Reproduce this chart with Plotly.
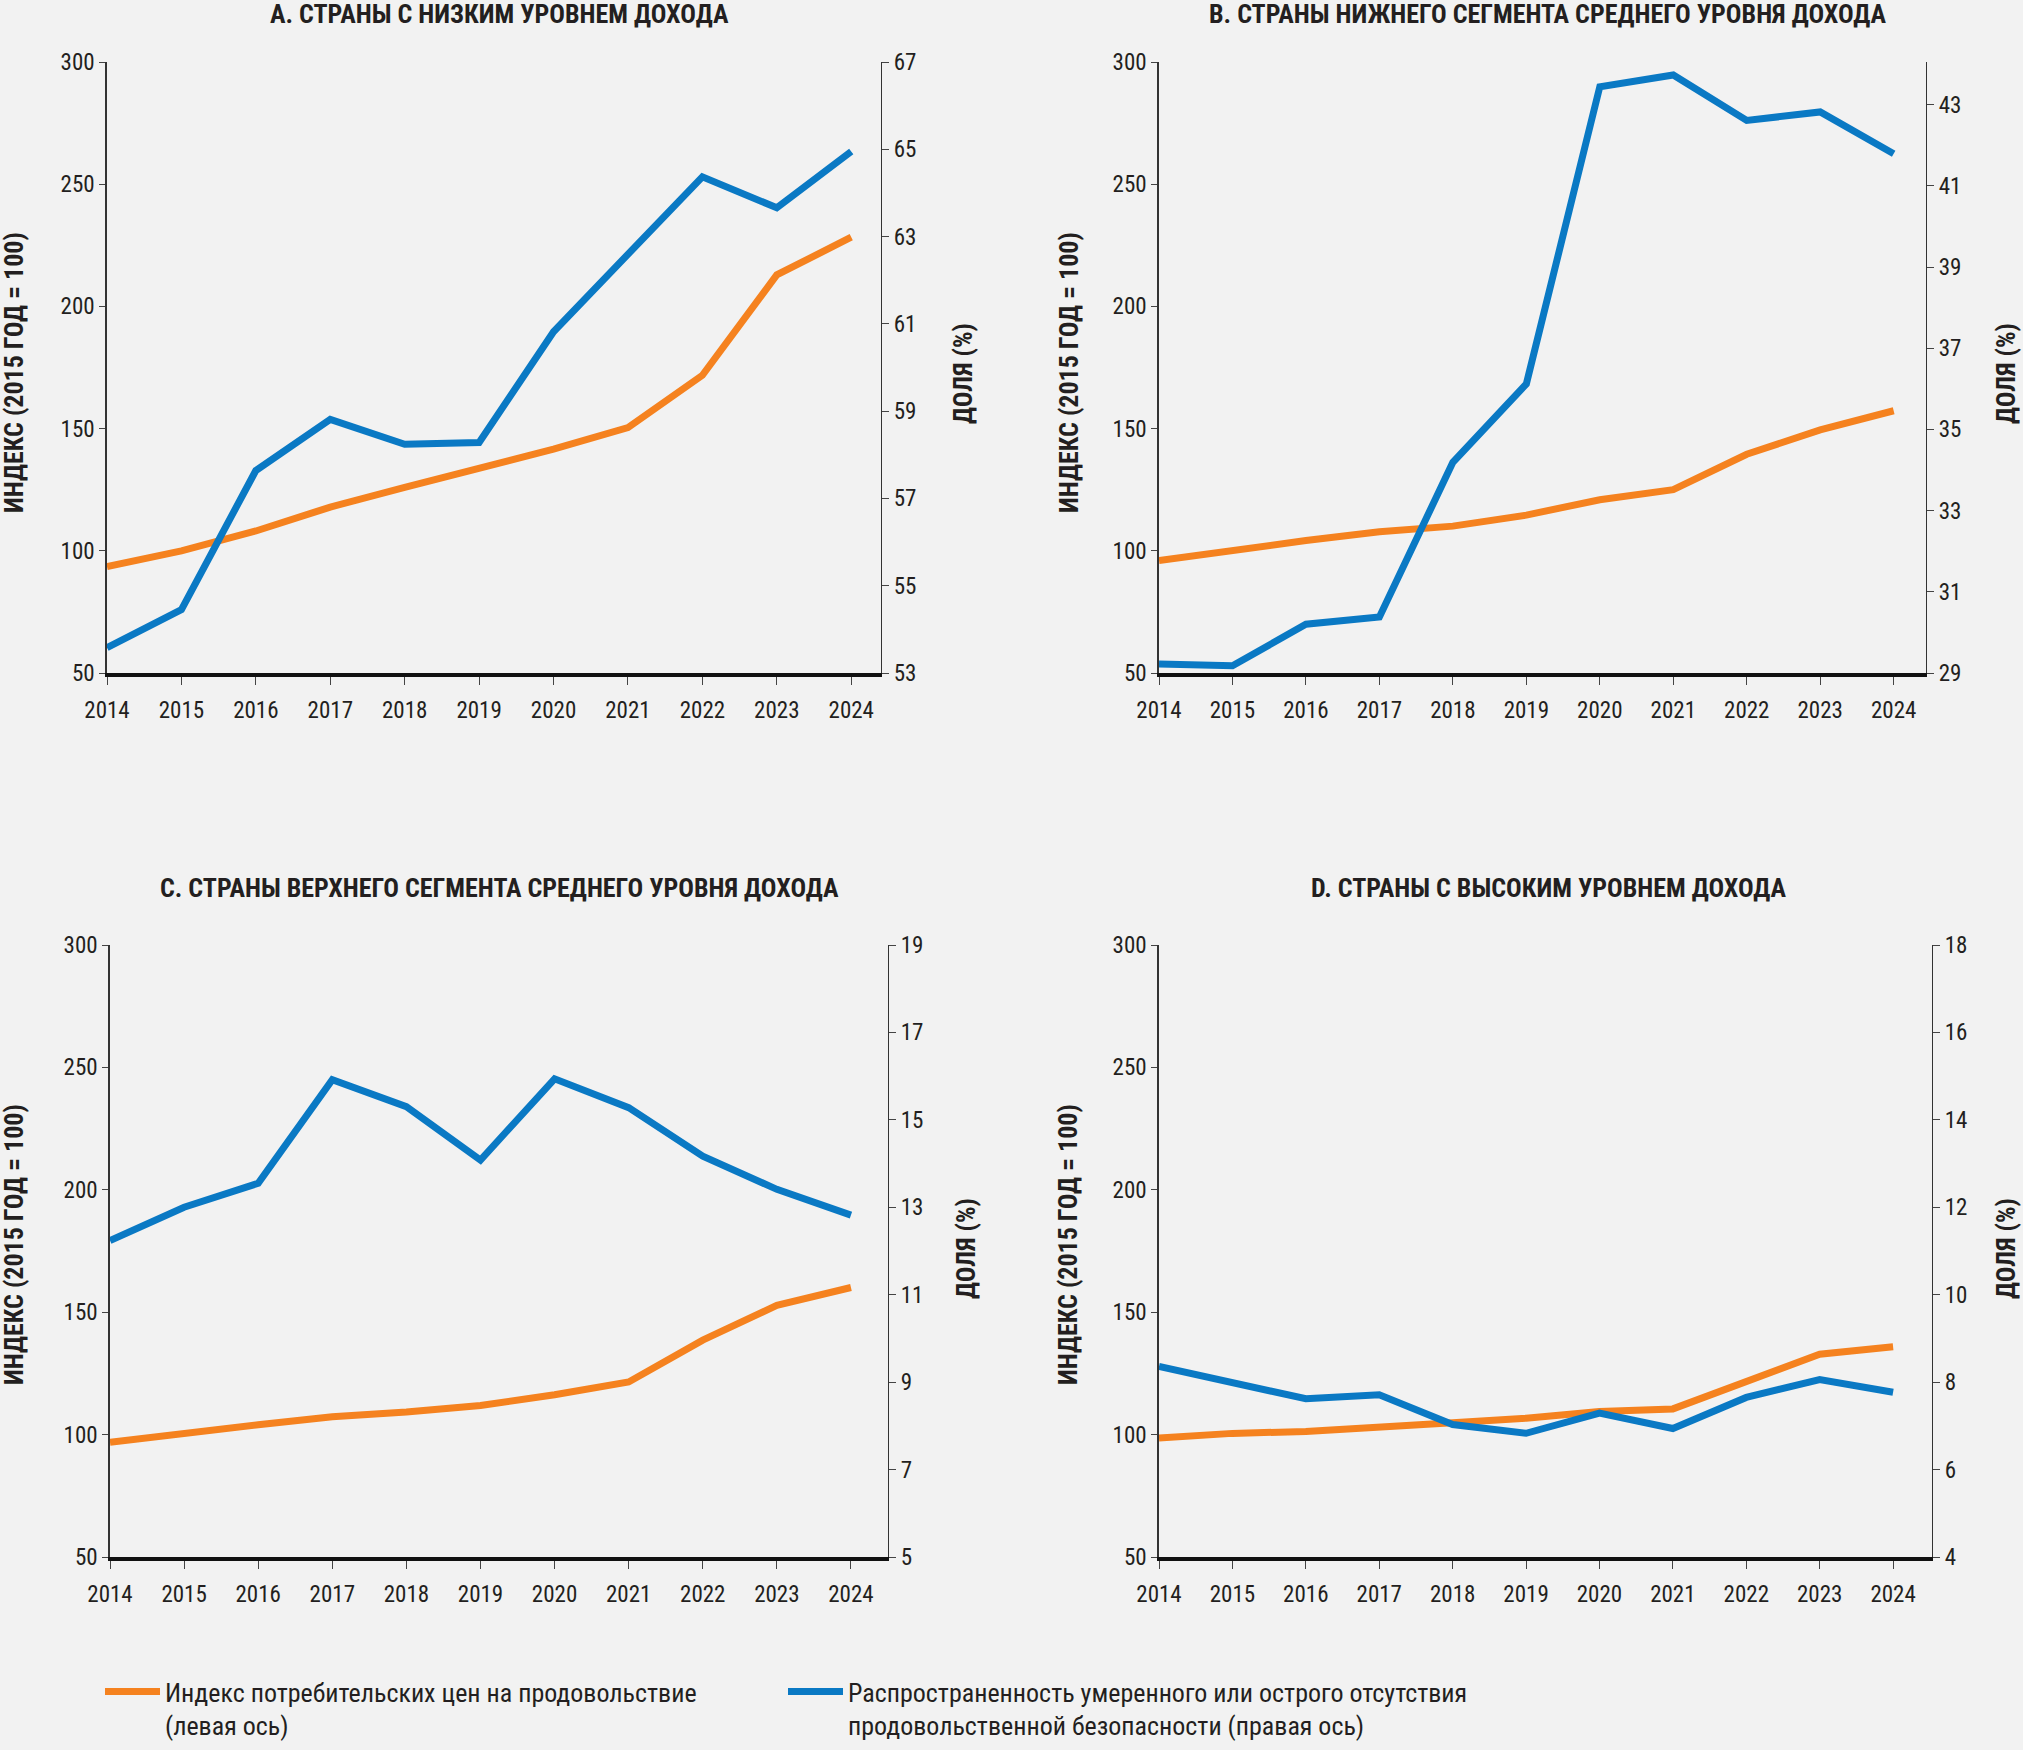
import plotly.graph_objects as go

# ---------------- data ----------------
years = [2014, 2015, 2016, 2017, 2018, 2019, 2020, 2021, 2022, 2023, 2024]

panel_titles = [
    "A. СТРАНЫ С НИЗКИМ УРОВНЕМ ДОХОДА",
    "B. СТРАНЫ НИЖНЕГО СЕГМЕНТА СРЕДНЕГО УРОВНЯ ДОХОДА",
    "C. СТРАНЫ ВЕРХНЕГО СЕГМЕНТА СРЕДНЕГО УРОВНЯ ДОХОДА",
    "D. СТРАНЫ С ВЫСОКИМ УРОВНЕМ ДОХОДА",
]

# food consumer price index (left axis, 2015 = 100)
fpi_a = [93.5, 100.0, 108.1, 117.9, 126.0, 133.8, 141.6, 150.4, 171.8, 212.9, 228.3]
fpi_b = [96.0, 100.3, 104.2, 107.8, 110.1, 114.6, 120.9, 125.0, 139.5, 149.5, 157.3]
fpi_c = [96.9, 100.7, 104.0, 107.3, 109.2, 111.9, 116.3, 121.5, 138.6, 152.8, 160.1]
fpi_d = [98.6, 100.5, 101.3, 102.8, 104.8, 106.7, 109.4, 110.5, 121.5, 132.8, 135.9]

# prevalence of moderate or severe food insecurity (right axis, %)
fi_a = [53.58, 54.45, 57.64, 58.81, 58.24, 58.28, 60.82, 62.60, 64.37, 63.66, 64.95]
fi_b = [29.22, 29.18, 30.20, 30.38, 34.19, 36.12, 43.44, 43.73, 42.61, 42.82, 41.79]
fi_c = [12.24, 13.00, 13.55, 15.92, 15.30, 14.08, 15.94, 15.28, 14.17, 13.41, 12.82]
fi_d = [8.36, 7.97, 7.62, 7.71, 7.03, 6.83, 7.29, 6.94, 7.65, 8.06, 7.77]

left_ticks = [50, 100, 150, 200, 250, 300]
right_ticks_a = [53, 55, 57, 59, 61, 63, 65, 67]
right_ticks_b = [29, 31, 33, 35, 37, 39, 41, 43]
right_ticks_c = [5, 7, 9, 11, 13, 15, 17, 19]
right_ticks_d = [4, 6, 8, 10, 12, 14, 16, 18]

left_axis_title = "ИНДЕКС (2015 ГОД = 100)"
right_axis_title = "ДОЛЯ (%)"
series_names = [
    "Индекс потребительских цен на продовольствие<br>(левая ось)",
    "Распространенность умеренного или острого отсутствия<br>продовольственной безопасности (правая ось)",
]

# ---------------- style / layout ----------------
W, H = 2023, 1750
ORANGE = "#F5821F"
BLUE = "#0A79C4"
BG = "#F2F2F2"
TXT = "#231F20"
FONT = "Roboto Condensed, Roboto, sans-serif"


def fx(p):
    return p / W


def fy(p):
    return 1 - p / H


panels = [
    dict(title=panel_titles[0], fpi=fpi_a, fi=fi_a, rticks=right_ticks_a, rrange=[53, 67],
         xpx=(107, 881), ypx=(62, 673), xmax=2024.40,
         tpos=(499, 14), ltpos=(14, 373), rtpos=(963, 374)),
    dict(title=panel_titles[1], fpi=fpi_b, fi=fi_b, rticks=right_ticks_b, rrange=[29, 44.05],
         xpx=(1159, 1926), ypx=(62, 673), xmax=2024.44,
         tpos=(1548, 14), ltpos=(1069, 373), rtpos=(2006, 374)),
    dict(title=panel_titles[2], fpi=fpi_c, fi=fi_c, rticks=right_ticks_c, rrange=[5, 19],
         xpx=(110, 888), ypx=(945, 1557), xmax=2024.50,
         tpos=(499, 888), ltpos=(14, 1245), rtpos=(966, 1249)),
    dict(title=panel_titles[3], fpi=fpi_d, fi=fi_d, rticks=right_ticks_d, rrange=[4, 18],
         xpx=(1159, 1932), ypx=(945, 1557), xmax=2024.53,
         tpos=(1549, 888), ltpos=(1068, 1245), rtpos=(2006, 1249)),
]

fig = go.Figure()
layout = {}
annotations = []
TICKFONT = dict(family=FONT, size=23, color=TXT)

for i, p in enumerate(panels):
    xn = "x" if i == 0 else f"x{i + 1}"
    yl = f"y{2 * i + 1}" if i > 0 else "y"
    yr = f"y{2 * i + 2}"
    xkey = "xaxis" if i == 0 else f"xaxis{i + 1}"
    ylkey = "yaxis" if i == 0 else f"yaxis{2 * i + 1}"
    yrkey = f"yaxis{2 * i + 2}"

    fig.add_trace(go.Scatter(
        x=years, y=p["fpi"], mode="lines", xaxis=xn, yaxis=yl,
        line=dict(color=ORANGE, width=7),
        name=series_names[0], legend="legend", showlegend=(i == 0),
        hoverinfo="skip",
    ))
    fig.add_trace(go.Scatter(
        x=years, y=p["fi"], mode="lines", xaxis=xn, yaxis=yr,
        line=dict(color=BLUE, width=7),
        name=series_names[1], legend="legend2", showlegend=(i == 0),
        hoverinfo="skip",
    ))

    layout[xkey] = dict(
        domain=[fx(p["xpx"][0]), fx(p["xpx"][1])],
        anchor=yl, range=[2014, p["xmax"]], automargin=False,
        tickmode="array", tickvals=years, ticktext=[str(y) for y in years],
        ticks="outside", ticklen=8, tickwidth=1.2, tickcolor="#444",
        ticklabelstandoff=5,
        showline=True, linecolor="#111", linewidth=4,
        showgrid=False, zeroline=False, tickfont=TICKFONT,
    )
    layout[ylkey] = dict(
        domain=[fy(p["ypx"][1]), fy(p["ypx"][0])],
        anchor=xn, range=[50, 300], automargin=False,
        tickmode="array", tickvals=left_ticks,
        ticks="outside", ticklen=6, tickwidth=1.2, tickcolor="#444",
        showline=True, linecolor="#333", linewidth=1.5,
        showgrid=False, zeroline=False, tickfont=TICKFONT,
    )
    layout[yrkey] = dict(
        overlaying=yl, side="right", anchor=xn,
        range=p["rrange"], automargin=False,
        tickmode="array", tickvals=p["rticks"],
        ticks="outside", ticklen=7, tickwidth=1.2, tickcolor="#444",
        showline=True, linecolor="#333", linewidth=1.2,
        showgrid=False, zeroline=False, tickfont=TICKFONT,
    )

    annotations.append(dict(
        text=f"<b>{p['title']}</b>", xref="paper", yref="paper",
        x=fx(p["tpos"][0]), y=fy(p["tpos"][1]), xanchor="center", yanchor="middle",
        showarrow=False, font=dict(family=FONT, size=26, color=TXT),
    ))
    annotations.append(dict(
        text=f"<b>{left_axis_title}</b>", xref="paper", yref="paper",
        x=fx(p["ltpos"][0]), y=fy(p["ltpos"][1]), xanchor="center", yanchor="middle",
        textangle=-90, showarrow=False, font=dict(family=FONT, size=26, color=TXT),
    ))
    annotations.append(dict(
        text=f"<b>{right_axis_title}</b>", xref="paper", yref="paper",
        x=fx(p["rtpos"][0]), y=fy(p["rtpos"][1]), xanchor="center", yanchor="middle",
        textangle=-90, showarrow=False, font=dict(family=FONT, size=26, color=TXT),
    ))

legend_common = dict(
    orientation="v", xanchor="left", yanchor="top", valign="top",
    font=dict(family=FONT, size=26, color=TXT), bgcolor="rgba(0,0,0,0)",
    itemwidth=55, borderwidth=0,
)

fig.update_layout(
    template="none",
    width=W, height=H,
    margin=dict(l=0, r=0, t=0, b=0, autoexpand=False),
    paper_bgcolor=BG, plot_bgcolor=BG,
    annotations=annotations,
    showlegend=True,
    legend=dict(x=fx(100), y=fy(1668), **legend_common),
    legend2=dict(x=fx(783), y=fy(1668), **legend_common),
    **layout,
)

fig.write_html(
    "out.html",
    config={"displayModeBar": False},
    post_script="document.body.style.margin='0';",
)
